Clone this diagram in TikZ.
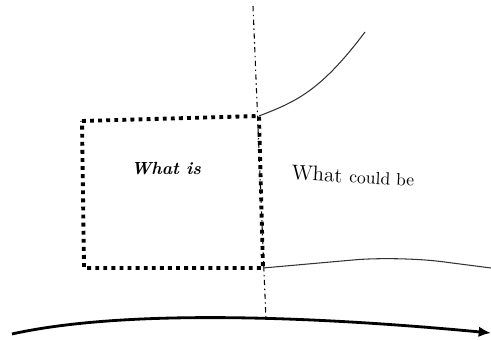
\documentclass[tikz,border=0pt]{standalone}
\usetikzlibrary{arrows.meta}

\begin{document}
\begin{tikzpicture}[
    x=0.02cm, y=-0.02cm,
    every node/.style={font=\large},
    nowbox/.style={line width=2.2pt, dash pattern=on 2.2pt off 2.4pt},
    divider/.style={line width=0.6pt, dash pattern=on 3pt off 2pt on 0.8pt off 2pt},
    trend/.style={line width=0.6pt, black!80},
    timeline/.style={line width=1.6pt, -{Latex[length=7pt,width=6pt]}},
]
\useasboundingbox (0,0) rectangle (491,340);

% Divider between present and future
\coordinate (top) at (253,6);
\coordinate (bot) at (266,320);
\draw[divider] (top) -- (bot);

% Dotted box for the present
\coordinate (tl) at (82,121);
\coordinate (tr) at (259,116);
\coordinate (br) at (263,268);
\coordinate (bl) at (84,268);
\draw[nowbox] (tl) -- (tr) -- (br) -- (bl) -- cycle;

\node[font=\normalsize\bfseries\itshape] (now) at (166,169) {What is};
\node[rotate=-3] (future) at (353,176) {What {\normalsize could be}};

% Upper and lower edges of what could be
\draw[trend] (tr) .. controls (295,102) and (320,92) .. (365,32);
\draw[trend, rounded corners=25pt] (br) -- (398,256) -- (491,268);

% Time axis
\coordinate (start) at (12,334);
\coordinate (finish) at (491,333);
\draw[timeline] (start) .. controls (120,310) and (300,315) .. (finish);

\end{tikzpicture}
\end{document}
